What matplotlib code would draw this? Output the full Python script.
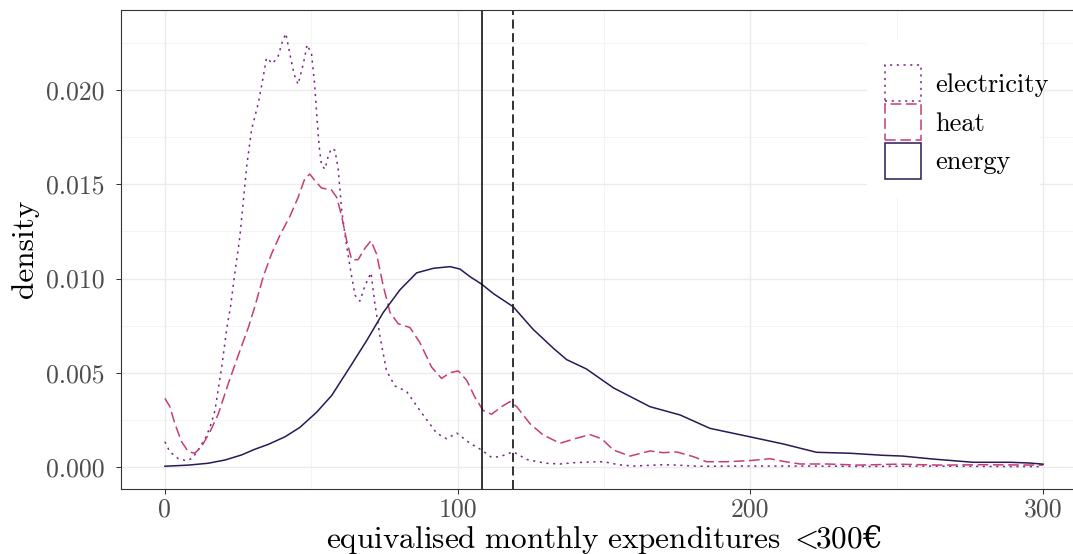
import matplotlib
matplotlib.use("Agg")
import matplotlib.pyplot as plt
from matplotlib.patches import Rectangle, Patch
from matplotlib.ticker import FixedLocator, FixedFormatter

plt.rcParams['font.family'] = ['cmr10', 'DejaVu Serif']
plt.rcParams['mathtext.fontset'] = 'cm'
plt.rcParams['axes.unicode_minus'] = False

# ---------------- data ----------------
elec_x = [0, 1.7, 4.5, 7.4, 9.2, 10.8, 12.5, 14.2, 15.8, 17.1, 19.4, 21.1, 22.5, 23.9, 25.6,
          27.9, 29.6, 31.9, 33.6, 34.7, 36.8, 38.7, 40.2, 41.3, 42.7, 44.2, 45.5, 47.3, 48.6,
          50.1, 51.2, 52.0, 52.7, 53.5, 54.7, 55.8, 56.9, 58.1, 59.2, 60.4, 62.1, 63.8, 65.0,
          66.6, 68.3, 70.4, 71.7, 73.5, 75.7, 78.6, 82.6, 87.1, 92.8, 96.2, 99.7, 104.2, 108.2,
          111.6, 114.5, 119.0, 123.6, 130, 135, 140, 146, 150, 155, 160, 170, 175, 182, 200,
          220, 240, 260, 280, 300]
elec_y = [0.00134, 0.0008, 0.00045, 0.00033, 0.00045, 0.00076, 0.0012, 0.00164, 0.0023, 0.0030,
          0.0053, 0.0073, 0.0086, 0.0103, 0.0122, 0.0159, 0.0179, 0.0193, 0.0207, 0.0217, 0.0214,
          0.0218, 0.0226, 0.0230, 0.0219, 0.0208, 0.0203, 0.0214, 0.0224, 0.0219, 0.0202, 0.0184,
          0.0170, 0.0160, 0.0158, 0.0165, 0.0169, 0.0168, 0.0158, 0.0136, 0.0117, 0.0101, 0.0091,
          0.0088, 0.0096, 0.0103, 0.0087, 0.0069, 0.0051, 0.0043, 0.0040, 0.0030, 0.0018, 0.0015,
          0.0018, 0.00126, 0.0009, 0.00051, 0.00055, 0.00081, 0.0004, 0.0002, 0.00016, 0.00023,
          0.00027, 0.00028, 0.00012, 0.00005, 0.00012, 0.00010, 0.00004, 0.00005, 0.00005,
          0.00003, 0.00005, 0.00003, 0.00002]

heat_x = [0, 1.7, 3.4, 5.7, 8.0, 10.2, 12.5, 15.4, 18.2, 21.6, 25.0, 28.5, 30.7, 33.6, 36.4,
          39.3, 42.7, 45.5, 47.8, 49.5, 51.2, 53.5, 56.9, 58.7, 60.4, 62.1, 63.8, 66.0, 68.3,
          70.4, 72.3, 74.6, 76.9, 79.7, 83.7, 87.1, 91.1, 94.5, 97.4, 100.2, 103.1, 105.9, 108.7,
          111.6, 115.0, 117.9, 120.2, 124.7, 129.2, 135.0, 140.0, 145.2, 149.2, 153.2, 158.9,
          165.7, 170.2, 174.8, 180.5, 185.0, 191.9, 199.9, 206.7, 211.3, 217.0, 226, 237, 250,
          265, 280, 300]
heat_y = [0.00364, 0.0032, 0.0023, 0.00134, 0.00081, 0.00073, 0.00108, 0.00187, 0.0028, 0.0044,
          0.0059, 0.0074, 0.0085, 0.0101, 0.0113, 0.0123, 0.0133, 0.0143, 0.0153, 0.01554, 0.0152,
          0.0148, 0.0147, 0.0143, 0.0133, 0.0120, 0.0110, 0.0110, 0.0116, 0.0120, 0.0113, 0.0096,
          0.0082, 0.0076, 0.0074, 0.0066, 0.0053, 0.0047, 0.0050, 0.0051, 0.0046, 0.0037, 0.0030,
          0.0028, 0.0032, 0.00347, 0.0032, 0.0023, 0.0017, 0.00126, 0.0015, 0.00172, 0.0015,
          0.0009, 0.00058, 0.00085, 0.00076, 0.0008, 0.00055, 0.00028, 0.00028, 0.00034, 0.00044,
          0.0003, 0.00016, 0.00016, 0.0001, 0.00015, 0.0001, 0.00012, 0.0001]

energy_x = [0, 8, 14.8, 20.5, 26.2, 30.7, 35.3, 41.0, 46.1, 51.8, 57.0, 63.2, 68.9, 74.6, 80.3,
            86.0, 91.7, 97.4, 100.8, 104.2, 108.2, 112.2, 119.0, 125.8, 132.7, 137.2, 144.0,
            148.6, 153.2, 165.7, 176.0, 186.2, 199.9, 211.3, 222.6, 234.0, 245.4, 252, 262.5,
            276.2, 288.7, 295.5, 300]
energy_y = [0.00004, 0.0001, 0.0002, 0.00037, 0.00064, 0.00094, 0.0012, 0.0016, 0.0021, 0.0029,
            0.0038, 0.0053, 0.0067, 0.0082, 0.0094, 0.0103, 0.01054, 0.01063, 0.0105, 0.0101,
            0.0097, 0.0092, 0.0085, 0.0073, 0.0063, 0.0057, 0.0052, 0.0047, 0.0042, 0.0032,
            0.00276, 0.00205, 0.0016, 0.00122, 0.00078, 0.00073, 0.00062, 0.00058, 0.00042,
            0.00025, 0.00025, 0.00021, 0.00015]

mean_line = 108.3
median_line = 118.9

series_labels = ['electricity', 'heat', 'energy']
x_ticks = [0, 100, 200, 300]
x_tick_labels = ['0', '100', '200', '300']
y_ticks = [0.0, 0.005, 0.010, 0.015, 0.020]
y_tick_labels = ['0.000', '0.005', '0.010', '0.015', '0.020']

# ---------------- styling ----------------
c_elec = '#7B2585'
c_heat = '#C73C79'
c_energy = '#2B1759'
ls_elec = (0, (1.4, 3.0))
ls_heat = (0, (7, 3))

W, H = 1073, 554
fig = plt.figure(figsize=(W / 100, H / 100), dpi=100)
ax = fig.add_axes([121 / W, (H - 489) / H, (1087 - 121) / W, (489 - 10) / H])

ax.set_xlim(-15, 315)
ax.set_ylim(-0.001167, 0.024244)

ax.set_axisbelow(True)
ax.xaxis.set_major_locator(FixedLocator(x_ticks))
ax.xaxis.set_major_formatter(FixedFormatter(x_tick_labels))
ax.xaxis.set_minor_locator(FixedLocator([50, 150, 250]))
ax.yaxis.set_major_locator(FixedLocator(y_ticks))
ax.yaxis.set_major_formatter(FixedFormatter(y_tick_labels))
ax.yaxis.set_minor_locator(FixedLocator([0.0025, 0.0075, 0.0125, 0.0175, 0.0225]))
ax.grid(which='major', color='#EBEBEB', linewidth=1.0)
ax.grid(which='minor', color='#F2F2F2', linewidth=0.6)
ax.tick_params(which='minor', length=0)
ax.tick_params(which='major', length=3.6, width=0.75, color='#333333',
               labelsize=18.5, labelcolor='#4D4D4D', pad=2.5)
ax.tick_params(axis='y', which='major', pad=8.5)
for s in ax.spines.values():
    s.set_color('#333333')
    s.set_linewidth(0.8)

ax.plot(elec_x, elec_y, color=c_elec, lw=1.1, linestyle=ls_elec, zorder=2)
ax.plot(heat_x, heat_y, color=c_heat, lw=1.1, linestyle=ls_heat, zorder=2)
ax.plot(energy_x, energy_y, color=c_energy, lw=1.1, linestyle='-', zorder=2)

ax.axvline(mean_line, color='black', lw=1.1, zorder=2.2)
ax.axvline(median_line, color='#222222', lw=1.3, linestyle=(0, (5, 2.5)), zorder=2.2)

# legend background
ax.add_patch(Rectangle((867 / W, 1 - 198 / H), (1040 - 867) / W, (198 - 40) / H,
                       transform=fig.transFigure, facecolor='white', edgecolor='none',
                       zorder=3, clip_on=False))
handles = [
    Patch(facecolor='white', edgecolor=c_elec, linestyle=ls_elec, linewidth=1.1),
    Patch(facecolor='white', edgecolor=c_heat, linestyle=ls_heat, linewidth=1.1),
    Patch(facecolor='white', edgecolor=c_energy, linestyle='-', linewidth=1.1),
]
leg = ax.legend(handles, series_labels, loc='upper left',
                bbox_to_anchor=(867 / W, 1 - 47 / H), bbox_transform=fig.transFigure,
                frameon=False, fontsize=19, handlelength=1.33, handleheight=1.72,
                handletextpad=0.57, labelspacing=0.1, borderpad=0.7, borderaxespad=0)
leg.set_zorder(5)

fig.text(25 / W, 1 - 249 / H, 'density', rotation=90, ha='center', va='center',
         fontsize=22.5, color='black')
fig.text(604 / W, 1 - 548 / H,
         r'$\mathrm{equivalised\ monthly\ expenditures}\ <\!\!\mathrm{300}$€',
         ha='center', va='baseline', fontsize=22.5, color='black',
         family='DejaVu Serif')

fig.savefig('out.png', dpi=100)
